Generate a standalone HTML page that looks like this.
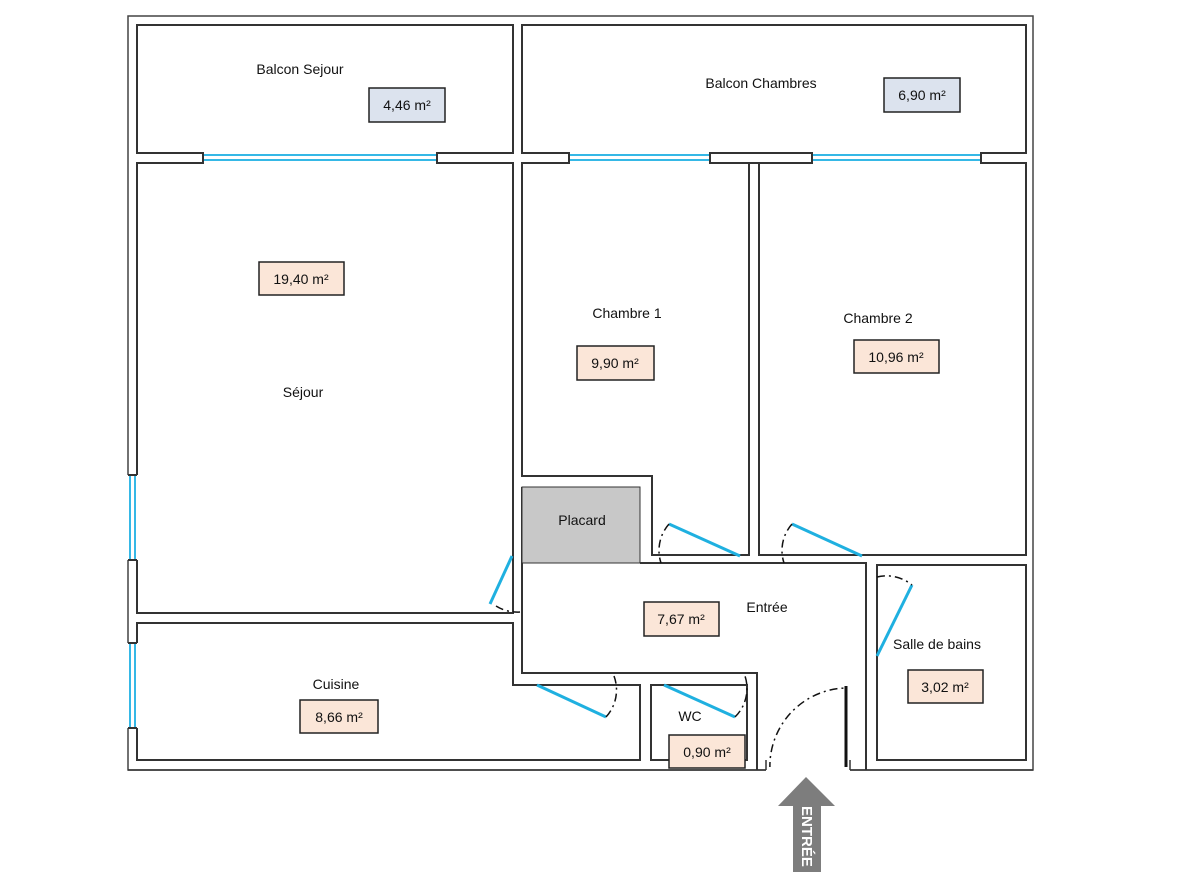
<!DOCTYPE html>
<html><head><meta charset="utf-8"><style>
html,body{margin:0;padding:0;background:#fff;width:1204px;height:878px;overflow:hidden}
svg text{font-family:"Liberation Sans",sans-serif;font-size:14px;fill:#111}
</style></head><body>
<svg width="1204" height="878" viewBox="0 0 1204 878" xmlns="http://www.w3.org/2000/svg">
<g fill="none" stroke="#333" stroke-width="2">
<rect x="128" y="16" width="905" height="754" stroke="#444" stroke-width="1.5"/>
<rect x="137" y="25" width="376" height="128"/>
<rect x="522" y="25" width="504" height="128"/>
<rect x="137" y="163" width="376" height="450"/>
<path d="M522 163 H749 V555 H652 V476 H522 Z"/>
<rect x="759" y="163" width="267" height="392"/>
<path d="M522 487 V673 H757 V770 M866 770 V563 H640"/>
<rect x="877" y="565" width="149" height="195"/>
<path d="M137 623 H513 V685 H640 V760 H137 Z"/>
<rect x="651" y="685" width="96" height="75"/>
</g>
<rect x="522" y="487" width="118" height="76" fill="#c8c8c8" stroke="#333" stroke-width="1"/>
<!-- windows top -->
<g>
<rect x="203" y="152" width="234" height="12" fill="#fff"/>
<line x1="203" y1="155" x2="437" y2="155" stroke="#35b8e6" stroke-width="2"/>
<line x1="203" y1="160" x2="437" y2="160" stroke="#35b8e6" stroke-width="2"/>
<rect x="569" y="152" width="141" height="12" fill="#fff"/>
<line x1="569" y1="155" x2="710" y2="155" stroke="#35b8e6" stroke-width="2"/>
<line x1="569" y1="160" x2="710" y2="160" stroke="#35b8e6" stroke-width="2"/>
<rect x="812" y="152" width="169" height="12" fill="#fff"/>
<line x1="812" y1="155" x2="981" y2="155" stroke="#35b8e6" stroke-width="2"/>
<line x1="812" y1="160" x2="981" y2="160" stroke="#35b8e6" stroke-width="2"/>
<path d="M137 153 H203 V163 H137 M513 153 H437 V163 H513 M522 153 H569 V163 H522 M749 153 H710 V163 H812 V153 H749 M1026 153 H981 V163 H1026" fill="none" stroke="#333" stroke-width="2"/>
<!-- left windows -->
<rect x="126" y="475" width="12" height="85" fill="#fff"/>
<rect x="126" y="643" width="12" height="85" fill="#fff"/>
<line x1="130" y1="475" x2="130" y2="560" stroke="#35b8e6" stroke-width="2"/>
<line x1="135" y1="475" x2="135" y2="560" stroke="#35b8e6" stroke-width="2"/>
<line x1="130" y1="643" x2="130" y2="728" stroke="#35b8e6" stroke-width="2"/>
<line x1="135" y1="643" x2="135" y2="728" stroke="#35b8e6" stroke-width="2"/>
<path d="M137 475 H128 M128 560 H137 M137 643 H128 M128 728 H137" stroke="#333" stroke-width="2"/>
</g>
<!-- doors -->
<g stroke="#1fb0e0" stroke-width="3">
<line x1="669" y1="524" x2="740" y2="556"/>
<line x1="792" y1="524" x2="862" y2="556"/>
<line x1="512" y1="556" x2="490" y2="604"/>
<line x1="537" y1="685" x2="606" y2="717"/>
<line x1="664" y1="685" x2="735" y2="717"/>
<line x1="912" y1="585" x2="877" y2="656"/>
</g>
<g fill="none" stroke="#111" stroke-width="1.5" stroke-dasharray="8,4,2,4">
<path d="M669 524 A40 40 0 0 0 661 563"/>
<path d="M792 524 A40 40 0 0 0 784 563"/>
<path d="M496 606 A40 40 0 0 0 520 612"/>
<path d="M606 717 A40 40 0 0 0 614 676"/>
<path d="M735 717 A40 40 0 0 0 745 676"/>
<path d="M877 577 A40 40 0 0 1 912 585"/>
<path d="M770 770 A78 78 0 0 1 846 688"/>
</g>
<line x1="846" y1="686" x2="846" y2="770" stroke="#111" stroke-width="3"/>
<rect x="766" y="767" width="84" height="6" fill="#fff"/>
<path d="M766 760 V770 M850 760 V770 M128 770 H766 M850 770 H1033" stroke="#333" stroke-width="1.5"/>
<!-- area boxes -->
<g stroke="#222" stroke-width="1.5">
<rect x="369" y="88" width="76" height="34" fill="#dce3ee"/>
<rect x="884" y="78" width="76" height="34" fill="#dce3ee"/>
<rect x="259" y="262" width="85" height="33" fill="#fbe6d8"/>
<rect x="577" y="346" width="77" height="34" fill="#fbe6d8"/>
<rect x="854" y="340" width="85" height="33" fill="#fbe6d8"/>
<rect x="644" y="602" width="75" height="34" fill="#fbe6d8"/>
<rect x="300" y="700" width="78" height="33" fill="#fbe6d8"/>
<rect x="669" y="735" width="76" height="33" fill="#fbe6d8"/>
<rect x="908" y="670" width="75" height="33" fill="#fbe6d8"/>
</g>
<g text-anchor="middle">
<text x="407" y="110">4,46 m²</text>
<text x="922" y="100">6,90 m²</text>
<text x="301" y="284">19,40 m²</text>
<text x="615" y="368">9,90 m²</text>
<text x="896" y="362">10,96 m²</text>
<text x="681" y="624">7,67 m²</text>
<text x="339" y="722">8,66 m²</text>
<text x="707" y="757">0,90 m²</text>
<text x="945" y="692">3,02 m²</text>
<text x="300" y="74">Balcon Sejour</text>
<text x="761" y="88">Balcon Chambres</text>
<text x="303" y="397">Séjour</text>
<text x="627" y="318">Chambre 1</text>
<text x="878" y="323">Chambre 2</text>
<text x="582" y="525">Placard</text>
<text x="767" y="612">Entrée</text>
<text x="937" y="649">Salle de bains</text>
<text x="336" y="689">Cuisine</text>
<text x="690" y="721">WC</text>
</g>
<!-- entrance arrow -->
<path d="M806 777 L835 806 L821 806 L821 872 L793 872 L793 806 L778 806 Z" fill="#7d7d7d"/>
<text x="807" y="806" transform="rotate(90 807 806)" dy="5" font-weight="bold" style="fill:#fff;font-size:15px" text-anchor="start">ENTRÉE</text>
</svg>
</body></html>
